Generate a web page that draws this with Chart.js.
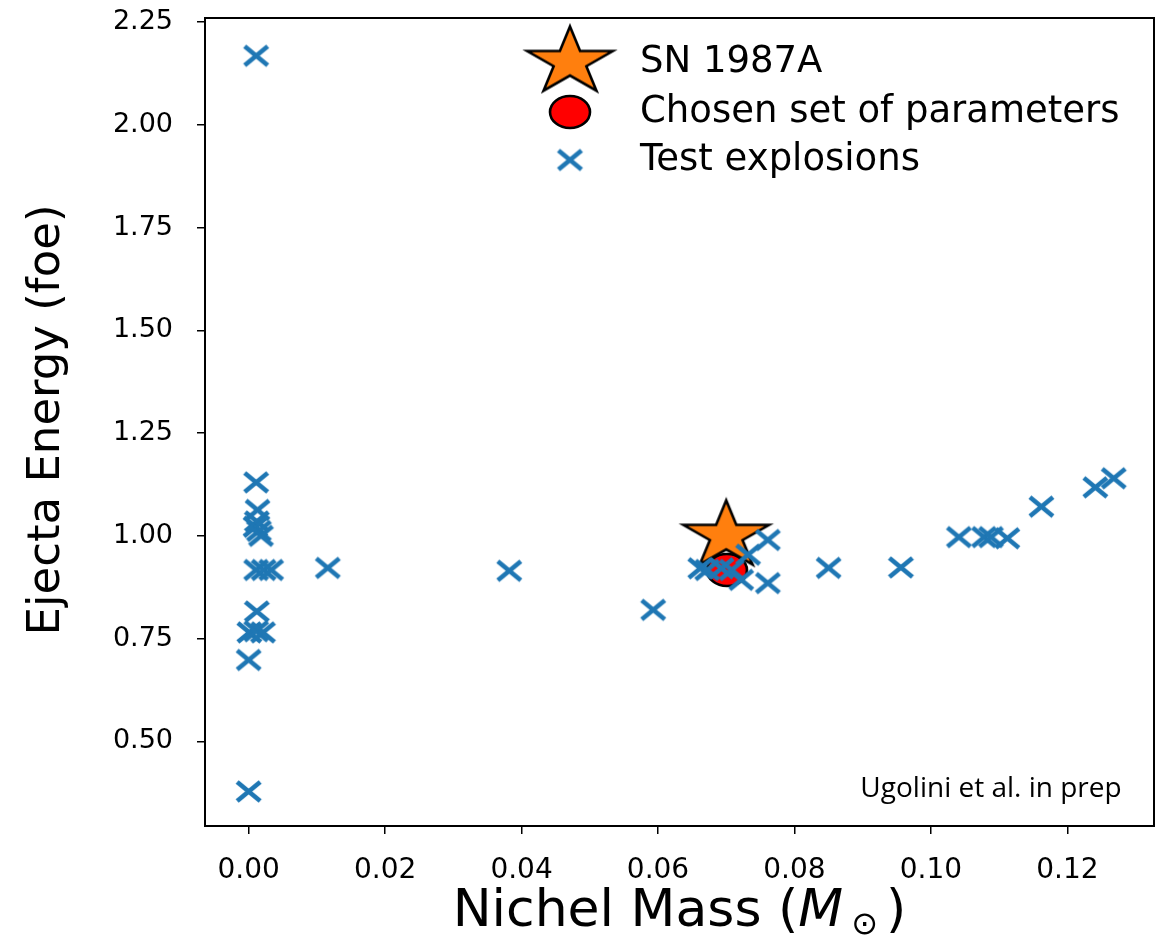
<!DOCTYPE html>
<html><head><meta charset="utf-8">
<script src="https://cdn.jsdelivr.net/npm/chart.js@4/dist/chart.umd.min.js"></script>
<style>html,body{margin:0;padding:0;background:#fff}#wrap{width:1165px;height:943px}</style>
</head><body><div id="wrap"><canvas id="c" width="1165" height="943"></canvas></div>
<script>
// ---- data ----
const testMass   = [0.0011,0.0011,0.0013,0.0012,0.0010,0.0015,0.0018,0.0011,0.0022,0.0033,0.0012,0.0001,0.0011,0.0021,0.0000,0.0000,
                    0.0116,0.0382,0.0593,0.0662,0.0672,0.0693,0.0708,0.0722,0.0732,0.0761,0.0761,0.0850,0.0956,
                    0.1041,0.1078,0.1088,0.1112,0.1162,0.1241,0.1268];
const testEnergy = [2.168,1.130,1.063,1.035,1.022,1.012,1.000,0.917,0.917,0.917,0.816,0.765,0.768,0.765,0.698,0.378,
                    0.922,0.915,0.820,0.921,0.917,0.921,0.917,0.893,0.954,0.990,0.885,0.922,0.923,
                    0.997,0.997,0.997,0.994,1.071,1.118,1.140];
const snMass = [0.0700];
const snEnergy = [1.00];
const chosenMass = [0.0701];
const chosenEnergy = [0.917];
const xTickValues = [0.00,0.02,0.04,0.06,0.08,0.10,0.12];
const yTickValues = [0.50,0.75,1.00,1.25,1.50,1.75,2.00,2.25];
const seriesNames = ['SN 1987A','Chosen set of parameters','Test explosions'];
const xTitleParts = ['Nichel Mass (', 'M', '\u2299', ')'];
const yTitleText = 'Ejecta Energy (foe)';
const noteText = 'Ugolini et al. in prep';

const FAM = '"DejaVu Sans", "Bitstream Vera Sans", Verdana, sans-serif';

// ---- marker images ----
function makeStar(){
  const Rx=45, Ry=35.5, c=document.createElement('canvas');
  c.width=2*(Rx+4); c.height=2*(Ry+4);
  const g=c.getContext('2d'), cx=c.width/2, cy=c.height/2;
  g.beginPath();
  for(let k=0;k<10;k++){
    const a=-Math.PI/2+k*Math.PI/5, r=(k%2===0)?1:0.382;
    const px=cx+Rx*r*Math.cos(a), py=cy+Ry*r*Math.sin(a);
    if(k===0) g.moveTo(px,py); else g.lineTo(px,py);
  }
  g.closePath(); g.fillStyle='#ff7f0e'; g.fill();
  g.lineWidth=2.6; g.lineJoin='miter'; g.strokeStyle='#000'; g.stroke();
  return c;
}
function makeCircle(){
  const rx=20, ry=16, c=document.createElement('canvas');
  c.width=2*(rx+3); c.height=2*(ry+3);
  const g=c.getContext('2d');
  g.beginPath(); g.ellipse(c.width/2,c.height/2,rx,ry,0,0,Math.PI*2);
  g.fillStyle='#ff0000'; g.fill(); g.lineWidth=2.6; g.strokeStyle='#000'; g.stroke();
  return c;
}
function makeCross(){
  const hx=11.5, hy=9.5, c=document.createElement('canvas');
  c.width=2*(hx+4); c.height=2*(hy+4);
  const g=c.getContext('2d'), cx=c.width/2, cy=c.height/2;
  g.strokeStyle='#1f77b4'; g.lineWidth=4.6; g.lineCap='butt';
  g.beginPath(); g.moveTo(cx-hx,cy-hy); g.lineTo(cx+hx,cy+hy);
  g.moveTo(cx-hx,cy+hy); g.lineTo(cx+hx,cy-hy); g.stroke();
  return c;
}
const starImg=makeStar(), circleImg=makeCircle(), crossImg=makeCross();

const toPts=(xs,ys)=>xs.map((x,i)=>({x:x,y:ys[i]}));

const deco = {
  id:'deco',
  afterDraw(chart){
    const ctx=chart.ctx, a=chart.chartArea;
    ctx.save();
    // frame
    ctx.strokeStyle='#000'; ctx.lineWidth=2;
    ctx.strokeRect(a.left,a.top,a.right-a.left,a.bottom-a.top);
    // y title
    ctx.fillStyle='#000';
    ctx.save(); ctx.translate(47,420); ctx.rotate(-Math.PI/2);
    ctx.font='45px '+FAM; ctx.textAlign='center'; ctx.textBaseline='middle';
    ctx.fillText(yTitleText,0,0); ctx.restore();
    // x title
    const fN='52px '+FAM, fI='italic 52px '+FAM, fS='32px '+FAM;
    ctx.textBaseline='alphabetic'; ctx.textAlign='left';
    ctx.font=fN; const w0=ctx.measureText(xTitleParts[0]).width;
    ctx.font=fI; const w1=ctx.measureText(xTitleParts[1]).width;
    ctx.font=fS; const w2=ctx.measureText(xTitleParts[2]).width;
    ctx.font=fN; const w3=ctx.measureText(xTitleParts[3]).width;
    const gap=8, total=w0+w1+gap+w2+gap+w3;
    let x=(a.left+a.right)/2-total/2; const by=926;
    ctx.font=fN; ctx.fillText(xTitleParts[0],x,by); x+=w0;
    ctx.font=fI; ctx.fillText(xTitleParts[1],x,by); x+=w1+gap;
    ctx.font=fS; ctx.fillText(xTitleParts[2],x,by+8); x+=w2+gap;
    ctx.font=fN; ctx.fillText(xTitleParts[3],x,by);
    // legend
    const imgs=[starImg,circleImg,crossImg], ys=[62,112,160];
    ctx.font='37px '+FAM; ctx.textBaseline='middle';
    imgs.forEach((im,i)=>{
      ctx.drawImage(im,570-im.width/2,ys[i]-im.height/2);
      ctx.fillText(seriesNames[i],640,ys[i]);
    });
    // note
    ctx.font='28px "Open Sans", sans-serif'; ctx.textAlign='center'; ctx.textBaseline='alphabetic';
    ctx.fillText(noteText,991,797);
    ctx.restore();
  }
};

new Chart(document.getElementById('c'),{
  type:'scatter',
  data:{datasets:[
    {label:seriesNames[2],data:toPts(testMass,testEnergy),pointStyle:crossImg,pointRadius:10,order:0},
    {label:seriesNames[0],data:toPts(snMass,snEnergy),pointStyle:starImg,pointRadius:10,order:1},
    {label:seriesNames[1],data:toPts(chosenMass,chosenEnergy),pointStyle:circleImg,pointRadius:10,order:2}
  ]},
  options:{
    responsive:false, animation:false, events:[], devicePixelRatio:1,
    layout:{padding:{top:18,right:2,left:0,bottom:0}},
    plugins:{legend:{display:false},tooltip:{enabled:false}},
    scales:{
      x:{type:'linear',min:-0.0064,max:0.1327,
        afterBuildTicks:s=>{s.ticks=xTickValues.map(v=>({value:v}));},
        afterFit:s=>{s.height=117; s.paddingLeft=0; s.paddingRight=0;},
        ticks:{callback:v=>Number(v).toFixed(2),font:{family:FAM,size:28},color:'#000',padding:20,maxRotation:0,autoSkip:false},
        grid:{drawOnChartArea:false,drawTicks:true,tickLength:8,color:'#000',lineWidth:1.5},
        border:{display:true,color:'#000',width:2}},
      y:{type:'linear',min:0.294,max:2.26,
        afterBuildTicks:s=>{s.ticks=yTickValues.map(v=>({value:v}));},
        afterFit:s=>{s.width=205; s.paddingTop=0; s.paddingBottom=0;},
        ticks:{callback:v=>Number(v).toFixed(2),font:{family:FAM,size:27},color:'#000',padding:24,autoSkip:false},
        grid:{drawOnChartArea:false,drawTicks:true,tickLength:8,color:'#000',lineWidth:1.5},
        border:{display:true,color:'#000',width:2}}
    }
  },
  plugins:[deco]
});
</script></body></html>
